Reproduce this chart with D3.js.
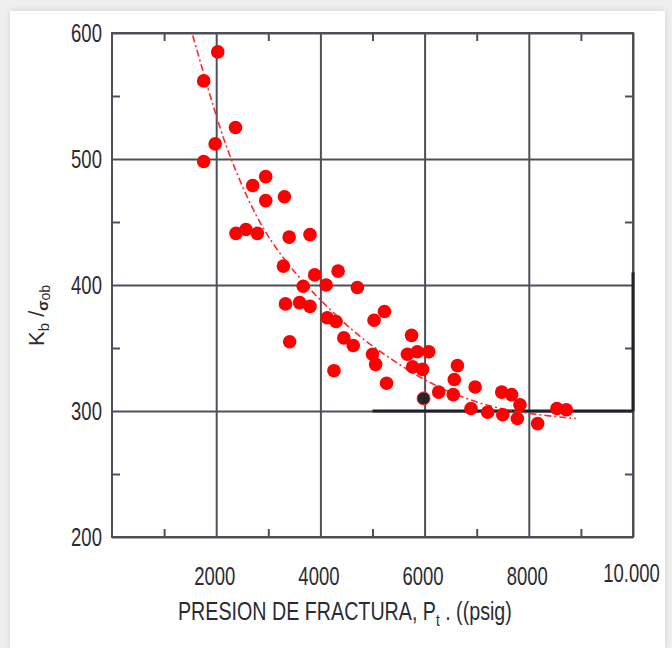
<!DOCTYPE html>
<html>
<head>
<meta charset="utf-8">
<script src="https://cdn.jsdelivr.net/npm/d3@7"></script>
<style>
  html, body { margin: 0; padding: 0; background: #efefef; }
  svg { display: block; }
  text { font-family: "Liberation Sans", Arial, sans-serif; fill: #2b2b33; }
</style>
</head>
<body>
<div id="chart"></div>
<script>
// Measured points (presion de fractura psig, Kb/sigma_ob)
const pressure = [2030, 1760, 2370, 1980, 1760, 2950, 2700, 2950, 3310, 2380, 2570, 2790, 3400, 3800,
  3290, 3890, 4340, 3670, 4110, 4710, 3330, 3600, 3800, 4130, 4300, 5030, 5230, 4450, 4630, 3410,
  5000, 5060, 4260, 5270, 5750, 5670, 5860, 6080, 5770, 5960, 6270, 6630, 6570, 6550, 6970, 6890,
  7210, 7480, 7670, 7500, 7830, 7780, 8170, 8540, 8720];
const ratio = [585, 562, 525, 512, 498, 486, 479, 467, 470, 441, 444, 441, 438, 440,
  415, 408, 411, 399, 400, 398, 385, 386, 383, 374, 371, 372, 379, 358, 352, 355,
  345, 337, 332, 322, 360, 345, 347, 347, 335, 333, 315, 336, 325, 313, 319, 302,
  299, 315, 313, 297, 305, 294, 290, 302, 301];

// one point printed dark in the original
const darkPressure = [5980];
const darkRatio = [310];

// dashed trend curve
const fitPressure = [1550, 2000, 2300, 2800, 3300, 3800, 4300, 4800, 5400, 6000, 6800, 7600, 8400, 8900];
const fitRatio = [598, 533, 497, 450, 420, 396, 376, 357, 340, 324, 309, 300, 296, 294];

const xTicks = [2000, 4000, 6000, 8000, 10000];
const xMinor = [1000, 3000, 5000, 7000, 9000];
const yTicks = [200, 300, 400, 500, 600];
const yMinor = [250, 350, 450, 550];

const W = 672, H = 648;
const margin = { top: 33, right: 39, bottom: 111, left: 112 },
      width = W - margin.left - margin.right,
      height = H - margin.top - margin.bottom;

const svg = d3.select("#chart")
  .append("svg")
  .attr("width", W)
  .attr("height", H);

// card background
svg.append("rect")
  .attr("x", 10).attr("y", 11)
  .attr("width", 655).attr("height", H - 11)
  .attr("fill", "#ffffff")
  .style("filter", "drop-shadow(0px 0px 3px rgba(0,0,0,0.12))");

const g = svg.append("g")
  .attr("transform", `translate(${margin.left},${margin.top})`);

const x = d3.scaleLinear().domain([0, 10000]).range([0, width]);
const y = d3.scaleLinear().domain([200, 600]).range([height, 0]);

const gridColor = "#4d5157";

// vertical grid + bottom labels
const xAxis = g.append("g")
  .attr("transform", `translate(0,${height})`)
  .call(d3.axisBottom(x)
    .tickValues(xTicks)
    .tickSize(-height)
    .tickFormat(d => d === 10000 ? "10.000" : d));
xAxis.select(".domain").remove();
xAxis.selectAll(".tick line")
  .attr("stroke", gridColor)
  .attr("stroke-width", 2);
xAxis.selectAll(".tick text")
  .attr("y", 26)
  .attr("dy", "0.71em")
  .style("font-size", "22px")
  .attr("fill", "#2b2b33")
  .attr("transform", d => d === 10000 ? "translate(-2,-3) scale(0.84,1.15)" : "translate(-2,0) scale(0.84,1.15)");

// horizontal grid + left labels
const yAxis = g.append("g")
  .call(d3.axisLeft(y)
    .tickValues(yTicks)
    .tickSize(-width)
    .tickPadding(12));
yAxis.select(".domain").remove();
yAxis.selectAll(".tick line")
  .attr("stroke", gridColor)
  .attr("stroke-width", 2);
yAxis.selectAll(".tick text")
  .style("font-size", "22px")
  .attr("fill", "#2b2b33")
  .attr("transform", "scale(0.84,1.15)");

// minor ticks, inside on all four sides
const minorLen = 8;
const tMinor = g.append("g")
  .call(d3.axisTop(x).tickValues(xMinor).tickSize(-minorLen).tickFormat(""));
const bMinor = g.append("g")
  .attr("transform", `translate(0,${height})`)
  .call(d3.axisBottom(x).tickValues(xMinor).tickSize(-minorLen).tickFormat(""));
const lMinor = g.append("g")
  .call(d3.axisLeft(y).tickValues(yMinor).tickSize(-minorLen).tickFormat(""));
const rMinor = g.append("g")
  .attr("transform", `translate(${width},0)`)
  .call(d3.axisRight(y).tickValues(yMinor).tickSize(-minorLen).tickFormat(""));
[tMinor, bMinor, lMinor, rMinor].forEach(a => {
  a.select(".domain").remove();
  a.selectAll("line").attr("stroke", gridColor).attr("stroke-width", 2);
});

// frame
g.append("rect")
  .attr("width", width)
  .attr("height", height)
  .attr("fill", "none")
  .attr("stroke", gridColor)
  .attr("stroke-width", 2);

// darker scan segments
g.append("line")
  .attr("x1", x(5000)).attr("x2", x(10000))
  .attr("y1", y(300)).attr("y2", y(300))
  .attr("stroke", "#1e2126").attr("stroke-width", 3);
g.append("line")
  .attr("x1", x(10000)).attr("x2", x(10000))
  .attr("y1", y(410)).attr("y2", y(300))
  .attr("stroke", "#1e2126").attr("stroke-width", 3);

// trend curve
const fit = fitPressure.map((p, i) => [p, fitRatio[i]]);
g.append("path")
  .datum(fit)
  .attr("fill", "none")
  .attr("stroke", "#ff2a2a")
  .attr("stroke-width", 1.6)
  .attr("stroke-dasharray", "7,3,2,3")
  .attr("d", d3.line()
    .x(d => x(d[0]))
    .y(d => y(d[1]))
    .curve(d3.curveBasis));

// points
const pts = pressure.map((p, i) => ({ p: p, r: ratio[i] }));
g.selectAll("circle.pt")
  .data(pts)
  .join("circle")
  .attr("class", "pt")
  .attr("cx", d => x(d.p))
  .attr("cy", d => y(d.r))
  .attr("r", 6.8)
  .style("fill", "#ff0000");

g.selectAll("circle.dark")
  .data(darkPressure.map((p, i) => ({ p: p, r: darkRatio[i] })))
  .join("circle")
  .attr("class", "dark")
  .attr("cx", d => x(d.p))
  .attr("cy", d => y(d.r))
  .attr("r", 6.5)
  .style("fill", "#22252a")
  .style("stroke", "#ff3030")
  .style("stroke-width", 1);

// x axis title
const xt = svg.append("g");
const xText = xt.append("text")
  .style("font-size", "22px");
xText.append("tspan").text("PRESION DE FRACTURA, P");
xText.append("tspan").attr("dy", 5).style("font-size", "15px").text("t");
xText.append("tspan").attr("dy", -5).text(" . ((psig)");
const xLen = xText.node().getComputedTextLength();
xt.attr("transform", `translate(178,620) scale(${334 / xLen},1.15)`);

// y axis title
const yt = svg.append("text")
  .attr("transform", "translate(44,346) rotate(-90)")
  .style("font-size", "22px");
yt.append("tspan").text("K");
yt.append("tspan").attr("dy", 5).style("font-size", "15px").text("b");
yt.append("tspan").attr("dy", -5).text(" /");
yt.append("tspan").attr("dy", 4).style("font-size", "15px").style("font-weight", "bold").text("σ");
yt.append("tspan").attr("dy", 2).style("font-size", "14px").text("ob");
</script>
</body>
</html>
